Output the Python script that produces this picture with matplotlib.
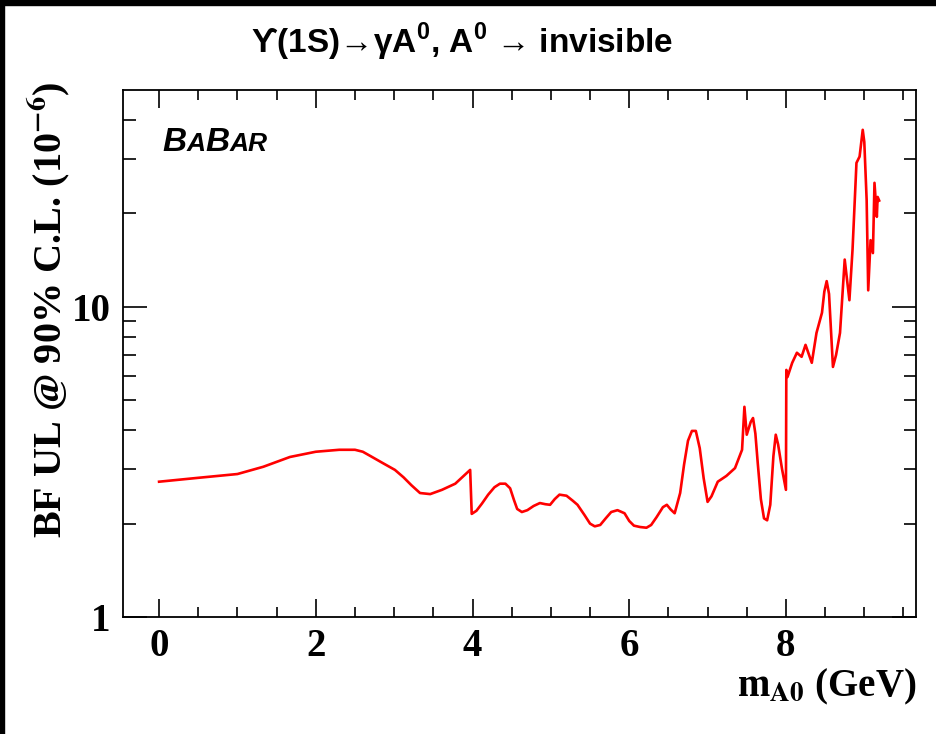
import matplotlib
matplotlib.use("Agg")
import matplotlib.pyplot as plt
from matplotlib.patches import Rectangle
from matplotlib.font_manager import FontProperties
from matplotlib.offsetbox import TextArea, HPacker, AnchoredOffsetbox
from matplotlib.ticker import FixedLocator, NullFormatter

#data
##mass of A0 in GeV
mass = [0.0, 0.5, 1.0, 1.33, 1.67, 2.0, 2.3, 2.5, 2.6, 2.7, 2.85, 3.01, 3.12, 3.22, 3.33,
        3.46, 3.61, 3.78, 3.97, 3.99, 4.05, 4.12, 4.2, 4.28, 4.35, 4.42, 4.48, 4.53, 4.57,
        4.63, 4.7, 4.78, 4.86, 4.93, 4.99, 5.05, 5.11, 5.2, 5.28, 5.34, 5.43, 5.5, 5.56,
        5.63, 5.7, 5.77, 5.85, 5.94, 6.0, 6.06, 6.14, 6.22, 6.28, 6.35, 6.43, 6.48, 6.53,
        6.58, 6.65, 6.7, 6.75, 6.8, 6.85, 6.9, 6.95, 7.0, 7.05, 7.13, 7.24, 7.35, 7.44,
        7.47, 7.5, 7.55, 7.58, 7.61, 7.64, 7.68, 7.72, 7.76, 7.8, 7.84, 7.87, 7.9, 7.95,
        8.0, 8.005, 8.02, 8.08, 8.14, 8.2, 8.25, 8.33, 8.39, 8.46, 8.49, 8.52, 8.55, 8.6,
        8.64, 8.69, 8.75, 8.81, 8.85, 8.9, 8.94, 8.98, 9.0, 9.03, 9.05, 9.08, 9.11, 9.13,
        9.16, 9.17, 9.19]
##upper limit on branching fraction, units of 1e-6
upper_limit = [2.73, 2.81, 2.89, 3.05, 3.28, 3.41, 3.46, 3.46, 3.41, 3.3, 3.14, 2.98, 2.82,
               2.66, 2.51, 2.49, 2.57, 2.69, 2.98, 2.15, 2.2, 2.32, 2.48, 2.62, 2.69, 2.69,
               2.6, 2.38, 2.23, 2.18, 2.21, 2.28, 2.33, 2.31, 2.30, 2.4, 2.48, 2.46, 2.37,
               2.30, 2.13, 2.0, 1.96, 1.98, 2.08, 2.18, 2.21, 2.16, 2.04, 1.97, 1.95, 1.94,
               1.98, 2.1, 2.26, 2.30, 2.22, 2.16, 2.51, 3.1, 3.7, 3.98, 3.98, 3.5, 2.8, 2.35,
               2.45, 2.73, 2.85, 3.02, 3.46, 4.76, 3.87, 4.25, 4.38, 3.9, 3.14, 2.4, 2.08,
               2.05, 2.3, 3.3, 3.87, 3.6, 3.0, 2.57, 6.26, 5.94, 6.6, 7.11, 6.9, 7.54, 6.6,
               8.24, 9.57, 11.2, 12.1, 11.0, 6.4, 7.0, 8.24, 14.2, 10.5, 15.3, 29.1, 30.5,
               37.2, 34.0, 22.1, 11.3, 16.4, 14.9, 25.1, 19.5, 22.6, 22.0]

x_ticks = [0, 2, 4, 6, 8]
x_tick_labels = ['0', '2', '4', '6', '8']
y_ticks = [1, 10]
y_tick_labels = ['1', '10']

#figure style
serif = FontProperties(family='Liberation Serif', weight='bold', size=28, math_fontfamily='stix')
serif_lab = FontProperties(family='Liberation Serif', weight='bold', size=29, math_fontfamily='stix')
fig = plt.figure(figsize=(9.37, 7.34), dpi=100)
ax = fig.add_axes([0.1313, 0.1594, 0.8463, 0.718])

ax.plot(mass, upper_limit, color='#ff0000', lw=1.9, solid_joinstyle='round')
ax.set_yscale('log')
ax.set_xlim(-0.46, 9.66)
ax.set_ylim(1, 50)

###ticks on all four sides, pointing in
ax.xaxis.set_major_locator(FixedLocator(x_ticks))
ax.xaxis.set_minor_locator(FixedLocator([i * 0.5 for i in range(-1, 20)]))
ax.yaxis.set_major_locator(FixedLocator(y_ticks))
ax.yaxis.set_minor_locator(FixedLocator([2, 3, 4, 5, 6, 7, 8, 9, 20, 30, 40]))
ax.yaxis.set_minor_formatter(NullFormatter())
ax.set_xticks(x_ticks, x_tick_labels)
ax.set_yticks(y_ticks, y_tick_labels)
ax.tick_params(which='both', direction='in', top=True, right=True, width=1.2, color='black')
ax.tick_params(axis='x', which='major', length=13, pad=8)
ax.tick_params(axis='x', which='minor', length=7)
ax.tick_params(axis='y', which='major', length=17, pad=9)
ax.tick_params(axis='y', which='minor', length=9)
for lab in ax.get_xticklabels() + ax.get_yticklabels():
    lab.set_fontproperties(serif)
for sp in ax.spines.values():
    sp.set_linewidth(1.3)

### labels
ax.set_ylabel(r'BF UL @ 90% C.L. (10$^{\mathbf{-6}}$)', fontproperties=serif_lab)
ax.yaxis.set_label_coords(-0.064, 0.583)
ax.set_xlabel(r'm$_{\mathbf{A0}}$ (GeV)', fontproperties=serif, ha='right')
ax.xaxis.set_label_coords(1.0, -0.095)

plt.rcParams['mathtext.fontset'] = 'custom'
plt.rcParams['mathtext.rm'] = 'Liberation Sans:bold'
plt.rcParams['mathtext.bf'] = 'Liberation Sans:bold'
fig.text(0.493, 0.943, r'ϒ(1S)→γA$^{0}$, A$^{0}$ → invisible', ha='center', va='center',
         fontsize=24, fontweight='bold', family=['Liberation Sans', 'DejaVu Sans'],
         math_fontfamily='custom')

### BaBar logo with the small caps look
parts = [('B', 24), ('A', 19), ('B', 24), ('AR', 19)]
boxes = [TextArea(t, textprops=dict(fontsize=s, fontweight='bold', fontstyle='italic',
                                    family='Liberation Sans')) for t, s in parts]
logo = HPacker(children=boxes, align='baseline', pad=0, sep=0)
anchored = AnchoredOffsetbox(loc='upper left', child=logo, pad=0, borderpad=0, frameon=False,
                             bbox_to_anchor=(0.05, 0.93), bbox_transform=ax.transAxes)
ax.add_artist(anchored)

#black frame on top and left edge of the picture
fig.add_artist(Rectangle((0, 1 - 5 / 734), 1, 5 / 734, transform=fig.transFigure, color='black'))
fig.add_artist(Rectangle((0, 0), 4 / 937, 1, transform=fig.transFigure, color='black'))

plt.savefig('out.png', dpi=100)
